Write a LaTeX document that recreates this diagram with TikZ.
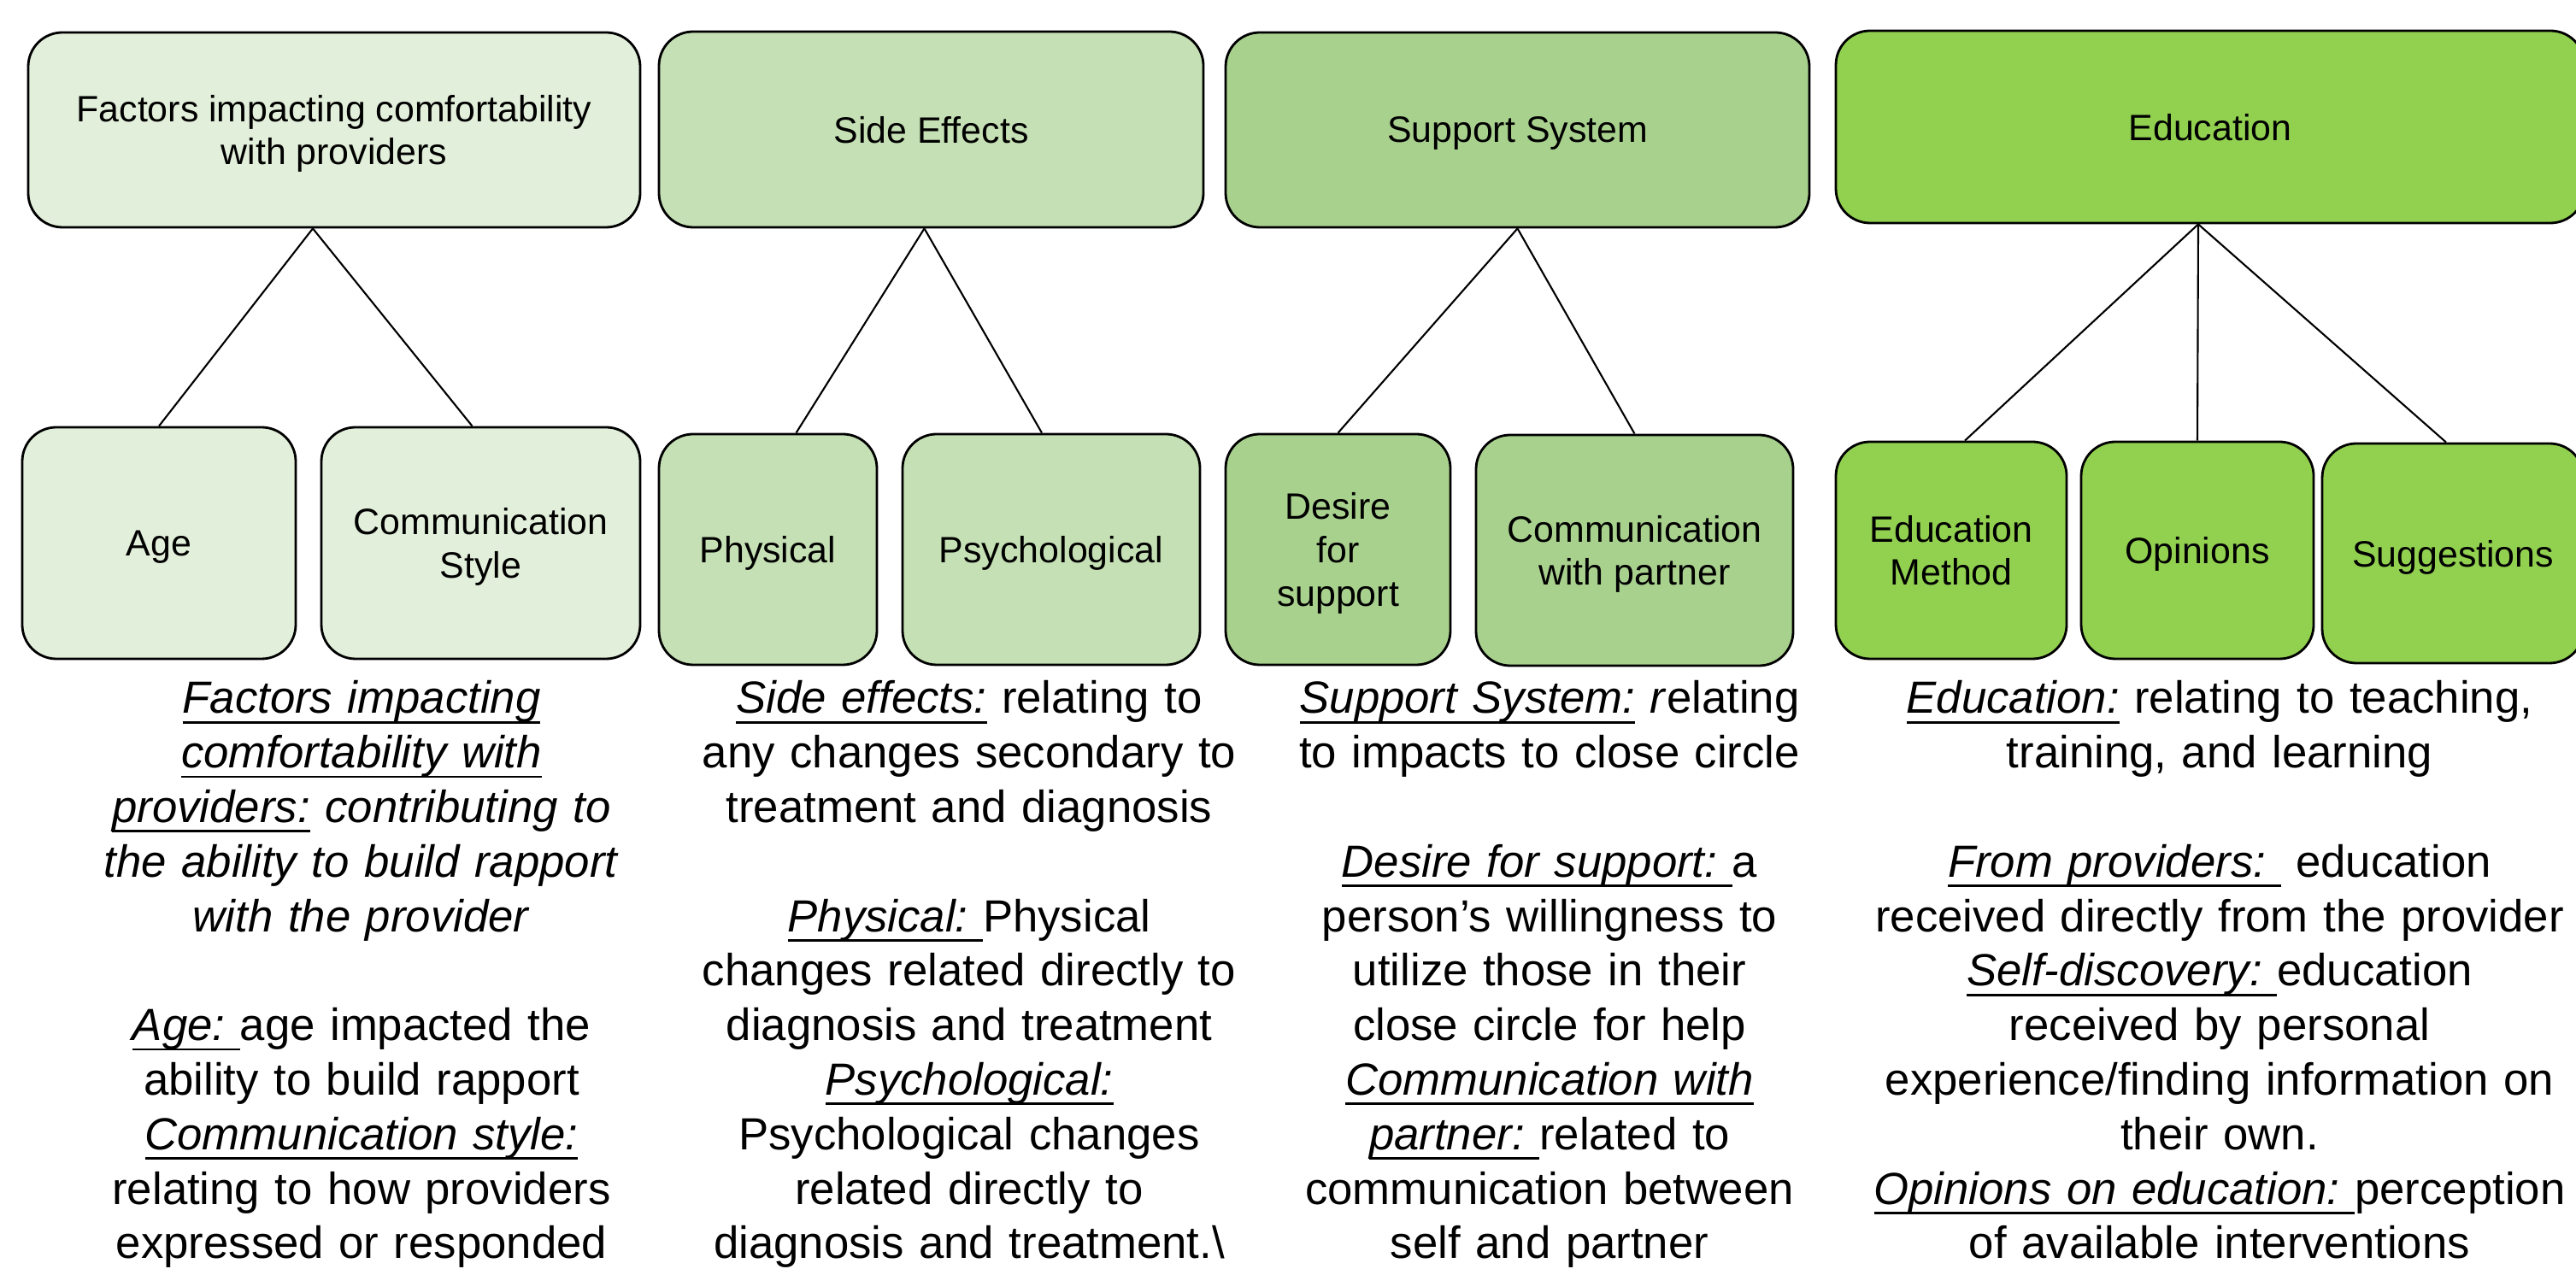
\documentclass[tikz,border=0pt]{standalone}
\usepackage{fontspec}
\setmainfont{Liberation Sans}
\usepackage{tikz}
\usetikzlibrary{shapes,arrows,positioning}

\definecolor{greenA}{HTML}{E2EFDA}
\definecolor{greenB}{HTML}{C5E0B4}
\definecolor{greenC}{HTML}{A9D18E}
\definecolor{greenD}{HTML}{92D050}

% italic term with a fixed underline
\newcommand{\term}[1]{\leavevmode\setbox0=\hbox{\itshape #1}\rlap{\rule[-3.3pt]{\wd0}{0.8pt}}\box0\relax}

\begin{document}
\begin{tikzpicture}[
	box/.style={draw=black, line width=0.8pt, rounded corners=0.4cm, align=center, inner sep=2pt, text depth=-0.8pt, font=\fontsize{12.2}{14.4}\selectfont},
	desc/.style={anchor=base, align=center, inner sep=0pt, font=\fontsize{15}{18.15}\selectfont},
	link/.style={-, line width=0.6pt}]
	\useasboundingbox (0,0) rectangle (30.14,-14.85);

	% categories
	\node[box, fill=greenA, minimum width=7.16cm, minimum height=2.28cm] (factors) at (3.91,-1.52) {Factors impacting comfortability\\with providers};
	\node[box, fill=greenB, minimum width=6.37cm, minimum height=2.29cm] (side) at (10.895,-1.515) {Side Effects};
	\node[box, fill=greenC, minimum width=6.83cm, minimum height=2.28cm] (support) at (17.755,-1.52) {Support System};
	\node[box, fill=greenD, minimum width=8.76cm, minimum height=2.25cm] (edu) at (25.86,-1.485) {Education};

	% subcategories
	\node[box, fill=greenA, minimum width=3.20cm, minimum height=2.71cm] (age) at (1.86,-6.355) {Age};
	\node[box, fill=greenA, minimum width=3.73cm, minimum height=2.71cm] (comm) at (5.625,-6.355) {Communication\\Style};
	\node[box, fill=greenB, minimum width=2.55cm, minimum height=2.70cm] (phys) at (8.985,-6.43) {Physical};
	\node[box, fill=greenB, minimum width=3.48cm, minimum height=2.70cm] (psych) at (12.30,-6.43) {Psychological};
	\node[box, fill=greenC, minimum width=2.63cm, minimum height=2.70cm] (desire) at (15.655,-6.43) {Desire\\for\\support};
	\node[box, fill=greenC, minimum width=3.71cm, minimum height=2.70cm] (partner) at (19.125,-6.44) {Communication\\with partner};
	\node[box, fill=greenD, minimum width=2.70cm, minimum height=2.54cm] (method) at (22.83,-6.44) {Education\\Method};
	\node[box, fill=greenD, minimum width=2.72cm, minimum height=2.54cm] (opin) at (25.71,-6.44) {Opinions};
	\node[box, fill=greenD, minimum width=3.06cm, minimum height=2.57cm] (sugg) at (28.70,-6.475) {Suggestions};

	\path [link] ([xshift=-0.25cm]factors.south) edge (age.north);
	\path [link] ([xshift=-0.25cm]factors.south) edge ([xshift=-0.1cm]comm.north);
	\path [link] ([xshift=-0.08cm]side.south) edge ([xshift=0.33cm]phys.north);
	\path [link] ([xshift=-0.08cm]side.south) edge ([xshift=-0.11cm]psych.north);
	\path [link] (support.south) edge (desire.north);
	\path [link] (support.south) edge (partner.north);
	\path [link] ([xshift=-0.14cm]edu.south) edge ([xshift=0.16cm]method.north);
	\path [link] ([xshift=-0.14cm]edu.south) edge (opin.north);
	\path [link] ([xshift=-0.14cm]edu.south) edge ([xshift=-0.08cm]sugg.north);

	% definitions
	\node[desc, text width=7cm] (factorsdef) at (4.23,-8.35) {%
		\term{Factors impacting}\\
		\term{comfortability with}\\
		\term{providers:} \textit{contributing to}\\
		\textit{the ability to build rapport}\\
		\textit{with the provider}\\[18.15pt]
		\term{Age:\ }age impacted the\\
		ability to build rapport\\
		\term{Communication style:}\\
		relating to how providers\\
		expressed or responded};
	\node[desc, text width=7cm] (sidedef) at (11.34,-8.35) {%
		\term{Side effects:} relating to\\
		any changes secondary to\\
		treatment and diagnosis\\[18.15pt]
		\term{Physical:\ }Physical\\
		changes related directly to\\
		diagnosis and treatment\\
		\term{Psychological:}\\
		Psychological changes\\
		related directly to\\
		diagnosis and treatment.\textbackslash};
	\node[desc, text width=7cm] (supportdef) at (18.13,-8.35) {%
		\term{Support System:} \textit{r}elating\\
		to impacts to close circle\\[18.15pt]
		\term{Desire for support:\ }a\\
		person’s willingness to\\
		utilize those in their\\
		close circle for help\\
		\term{Communication with}\\
		\term{partner:\ }related to\\
		communication between\\
		self and partner};
	\node[desc, text width=8.8cm] (edudef) at (25.97,-8.35) {%
		\term{Education:} relating to teaching,\\
		training, and learning\\[18.15pt]
		\term{From providers:\ }\ education\\
		received directly from the provider\\
		\term{Self-discovery:\ }education\\
		received by personal\\
		experience/finding information on\\
		their own.\\
		\term{Opinions on education:\ }perception\\
		of available interventions};
\end{tikzpicture}
\end{document}
